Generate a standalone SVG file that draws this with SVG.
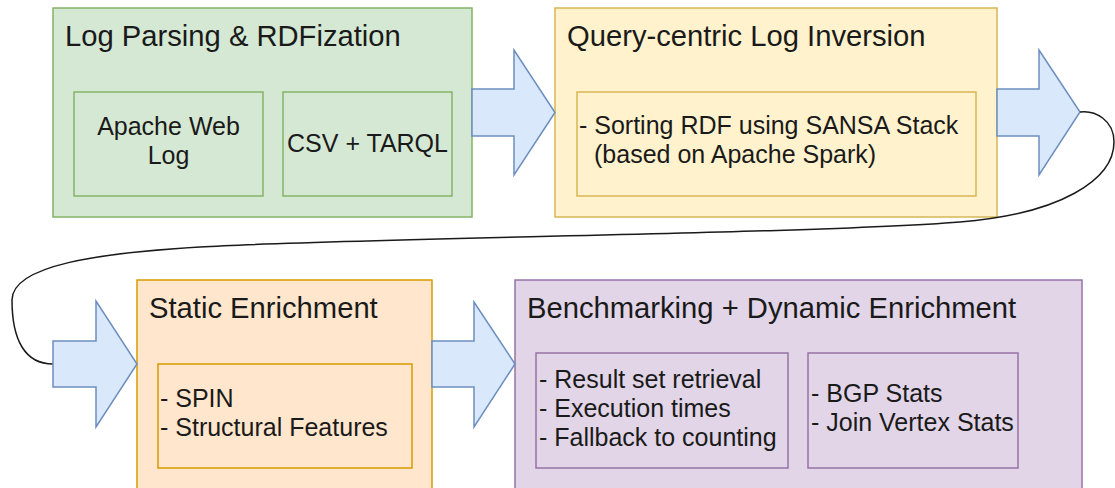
<svg xmlns="http://www.w3.org/2000/svg" width="1115" height="488" viewBox="0 0 1115 488">
  <style>
    text { font-family: "Liberation Sans", Arial, sans-serif; fill: #1a1a1a; }
    .title { font-size: 29.2px; }
    .body { font-size: 25px; }
    .mid { text-anchor: middle; }
    .green { fill: #d5e8d4; stroke: #82b366; stroke-width: 1.5; }
    .yellow { fill: #fff2cc; stroke: #d6b656; stroke-width: 1.5; }
    .orange { fill: #ffe6cc; stroke: #d79b00; stroke-width: 1.5; }
    .purple { fill: #e1d5e7; stroke: #9673a6; stroke-width: 1.5; }
    .arrow { fill: #dae8fc; stroke: #6c8ebf; stroke-width: 1.5; stroke-linejoin: miter; }
    .edge { fill: none; stroke: #1a1a1a; stroke-width: 1.5; }
  </style>
  <rect width="1115" height="488" fill="#ffffff"/>

  <g id="log-parsing">
    <rect class="green" x="53" y="8" width="419" height="209"/>
    <text class="title" x="65" y="46">Log Parsing &amp; RDFization</text>
    <g id="apache-web-log">
      <rect class="green" x="74" y="92" width="189" height="104"/>
      <text class="body mid" x="168.5" y="135">Apache Web</text>
      <text class="body mid" x="168.5" y="164">Log</text>
    </g>
    <g id="csv-tarql">
      <rect class="green" x="283" y="92" width="169" height="104"/>
      <text class="body mid" x="367.5" y="152">CSV + TARQL</text>
    </g>
  </g>

  <g id="log-inversion">
    <rect class="yellow" x="555" y="8" width="442" height="209"/>
    <text class="title" x="567" y="46">Query-centric Log Inversion</text>
    <g id="sorting-rdf">
      <rect class="yellow" x="577" y="92" width="399" height="104"/>
      <text class="body" x="579" y="134">- Sorting RDF using SANSA Stack</text>
      <text class="body" x="594" y="163">(based on Apache Spark)</text>
    </g>
  </g>

  <g id="static-enrichment">
    <rect class="orange" x="137" y="280" width="295" height="212"/>
    <text class="title" x="149" y="318">Static Enrichment</text>
    <g id="spin-features">
      <rect class="orange" x="158" y="364" width="254" height="104"/>
      <text class="body" x="160" y="407">- SPIN</text>
      <text class="body" x="160" y="436">- Structural Features</text>
    </g>
  </g>

  <g id="benchmarking">
    <rect class="purple" x="515" y="280" width="567" height="212"/>
    <text class="title" x="527" y="318">Benchmarking + Dynamic Enrichment</text>
    <g id="result-set">
      <rect class="purple" x="536" y="353" width="252" height="115"/>
      <text class="body" x="539" y="388">- Result set retrieval</text>
      <text class="body" x="539" y="417">- Execution times</text>
      <text class="body" x="539" y="446">- Fallback to counting</text>
    </g>
    <g id="bgp-stats">
      <rect class="purple" x="808" y="353" width="210" height="115"/>
      <text class="body" x="811" y="402">- BGP Stats</text>
      <text class="body" x="811" y="431">- Join Vertex Stats</text>
    </g>
  </g>

  <g id="connectors">
    <polygon class="arrow" points="472,89 514,89 514,50 555,112.5 514,175 514,136 472,136"/>
    <polygon class="arrow" points="997,89 1039,89 1039,50 1080,112 1039,175 1039,136 997,136"/>
    <path class="edge" d="M1080,112 C1095,110 1114,120 1114,142 C1114,180 1060,214 960,222 C810,234 350,238 200,247 C100,253 12,265 12,300 C12,340 25,364 53,364"/>
    <polygon class="arrow" points="53,341 96,341 96,301 137,364 96,427 96,387 53,387"/>
    <polygon class="arrow" points="432,341 474,341 474,302 515,364 474,427 474,387 432,387"/>
  </g>
</svg>
